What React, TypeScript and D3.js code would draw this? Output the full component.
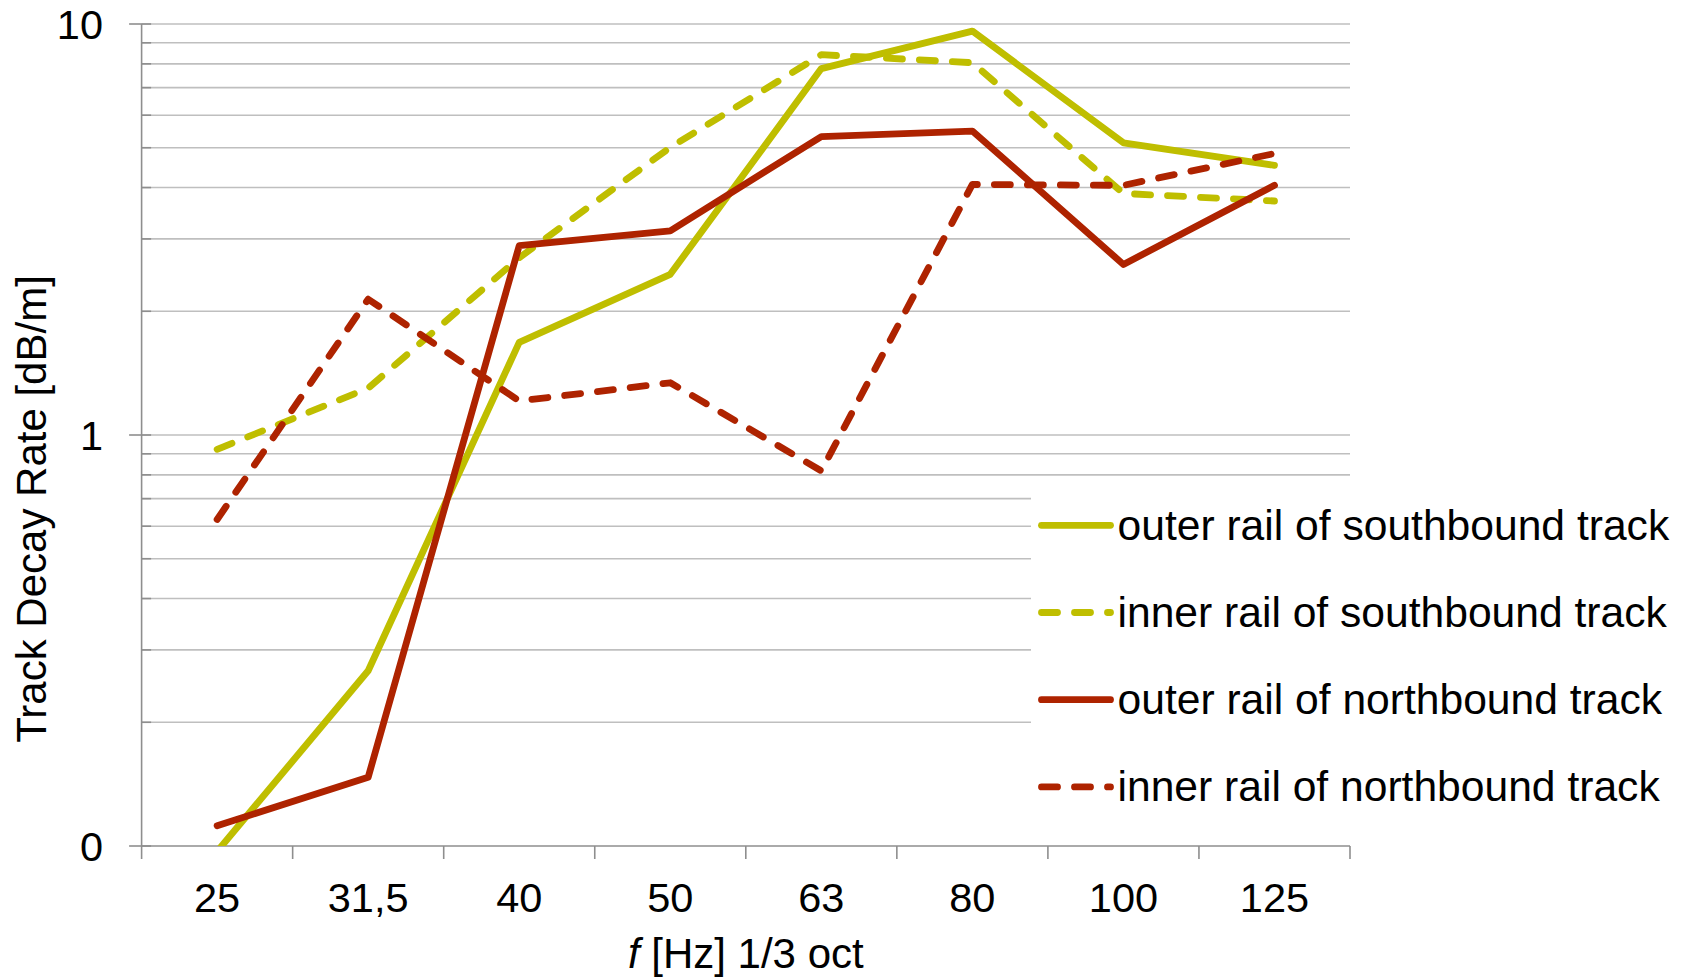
import React from 'react';
import * as d3 from 'd3';

const categories = ['25', '31,5', '40', '50', '63', '80', '100', '125'];
const outerSouth = [0.097, 0.267, 1.68, 2.46, 7.79, 9.61, 5.14, 4.53];
const innerSouth = [0.923, 1.3, 2.7, 5.01, 8.42, 8.05, 3.87, 3.71];
const outerNorth = [0.112, 0.147, 2.89, 3.14, 5.32, 5.49, 2.6, 4.05];
const innerNorth = [0.623, 2.14, 1.21, 1.34, 0.818, 4.07, 4.05, 4.84];
const seriesNames = [
  'outer rail of southbound track',
  'inner rail of southbound track',
  'outer rail of northbound track',
  'inner rail of northbound track',
];
const yMajorValues = [0.1, 1, 10];
const yMajorLabels = ['0', '1', '10'];
const yMinorValues = [0.2, 0.3, 0.4, 0.5, 0.6, 0.7, 0.8, 0.9, 2, 3, 4, 5, 6, 7, 8, 9];
const xTitle = '[Hz] 1/3 oct';
const yTitle = 'Track Decay Rate [dB/m]';

const W = 1688;
const H = 978;
const M = { left: 141.6, right: 1350, top: 24, bottom: 846 };
const YELLOW = '#bfbe00';
const RED = '#ae2300';
const GRID = '#bfbfbf';
const AXIS = '#8e8e8e';
const FONT = '"Liberation Sans", Arial, Helvetica, sans-serif';
const DASH = '16 17';
const LW = 6.8;

export default function App() {
  const x = d3.scaleBand<string>().domain(categories).range([M.left, M.right]);
  const y = d3.scaleLog().domain([0.1, 10]).range([M.bottom, M.top]);
  const cx = (c: string) => (x(c) as number) + x.bandwidth() / 2;

  const line = d3
    .line<number>()
    .x((_, i) => cx(categories[i]))
    .y((v) => y(v));

  const series = [
    { name: seriesNames[0], data: outerSouth, color: YELLOW, dash: undefined as string | undefined },
    { name: seriesNames[1], data: innerSouth, color: YELLOW, dash: DASH },
    { name: seriesNames[2], data: outerNorth, color: RED, dash: undefined },
    { name: seriesNames[3], data: innerNorth, color: RED, dash: DASH },
  ];

  const legendX1 = 1041.5;
  const legendX2 = 1110.5;
  const legendY0 = 525.3;
  const legendStep = 87.2;

  return (
    <svg
      width={W}
      height={H}
      style={{ position: 'absolute', left: 0, top: 0, background: '#fff' }}
      fontFamily={FONT}
    >
      <defs>
        <clipPath id="plotClip">
          <rect x={M.left} y={M.top - 10} width={M.right - M.left + 20} height={M.bottom - M.top + 10} />
        </clipPath>
      </defs>
      <rect x={0} y={0} width={W} height={H} fill="#fff" />
      {/* gridlines */}
      {[...yMinorValues, ...yMajorValues.slice(1)].map((v) => (
        <line key={'g' + v} x1={M.left} x2={M.right} y1={y(v)} y2={y(v)} stroke={GRID} strokeWidth={1.6} />
      ))}
      {/* minor ticks inside */}
      {yMinorValues.map((v) => (
        <line key={'mt' + v} x1={M.left} x2={M.left + 9.5} y1={y(v)} y2={y(v)} stroke={AXIS} strokeWidth={1.6} />
      ))}
      {yMajorValues.map((v) => (
        <line key={'Mt' + v} x1={M.left - 12.5} x2={M.left + 9.5} y1={y(v)} y2={y(v)} stroke={AXIS} strokeWidth={1.6} />
      ))}
      {/* y axis line */}
      <line x1={M.left} x2={M.left} y1={M.top} y2={M.bottom} stroke={AXIS} strokeWidth={1.6} />
      {/* x axis line */}
      <line x1={M.left} x2={M.right} y1={M.bottom} y2={M.bottom} stroke={AXIS} strokeWidth={1.6} />
      {/* x ticks at category boundaries */}
      {categories.map((c) => (
        <line key={'xt' + c} x1={x(c) as number} x2={x(c) as number} y1={M.bottom} y2={M.bottom + 13} stroke={AXIS} strokeWidth={1.6} />
      ))}
      <line x1={M.right} x2={M.right} y1={M.bottom} y2={M.bottom + 13} stroke={AXIS} strokeWidth={1.6} />

      {/* series */}
      <g clipPath="url(#plotClip)">
        {series.map((s) => (
          <path
            key={s.name}
            d={line(s.data) || ''}
            fill="none"
            stroke={s.color}
            strokeWidth={LW}
            strokeLinecap="round"
            strokeLinejoin="round"
            strokeDasharray={s.dash}
          />
        ))}
      </g>

      {/* y labels */}
      {yMajorValues.map((v, i) => (
        <text key={'yl' + v} x={103} y={y(v) + 14.5} textAnchor="end" fontSize={41.5} fill="#000">
          {yMajorLabels[i]}
        </text>
      ))}
      {/* x labels */}
      {categories.map((c) => (
        <text key={'xl' + c} x={cx(c)} y={912} textAnchor="middle" fontSize={41.5} fill="#000">
          {c}
        </text>
      ))}
      {/* axis titles */}
      <text x={(M.left + M.right) / 2} y={968} textAnchor="middle" fontSize={42} fill="#000">
        <tspan fontStyle="italic">f</tspan>
        <tspan> {xTitle}</tspan>
      </text>
      <text
        transform={`translate(46, 509) rotate(-90)`}
        textAnchor="middle"
        fontSize={42}
        fill="#000"
      >
        {yTitle}
      </text>

      {/* legend */}
      <rect x={1031} y={487} width={W - 1031} height={340} fill="#fff" />
      {series.map((s, i) => {
        const ly = legendY0 + i * legendStep;
        return (
          <g key={'lg' + i}>
            <line
              x1={legendX1}
              x2={legendX2}
              y1={ly}
              y2={ly}
              stroke={s.color}
              strokeWidth={LW}
              strokeLinecap="round"
              strokeDasharray={s.dash}
            />
            <text x={1117.5} y={ly + 14.5} fontSize={42.6} fill="#000">
              {s.name}
            </text>
          </g>
        );
      })}
    </svg>
  );
}
